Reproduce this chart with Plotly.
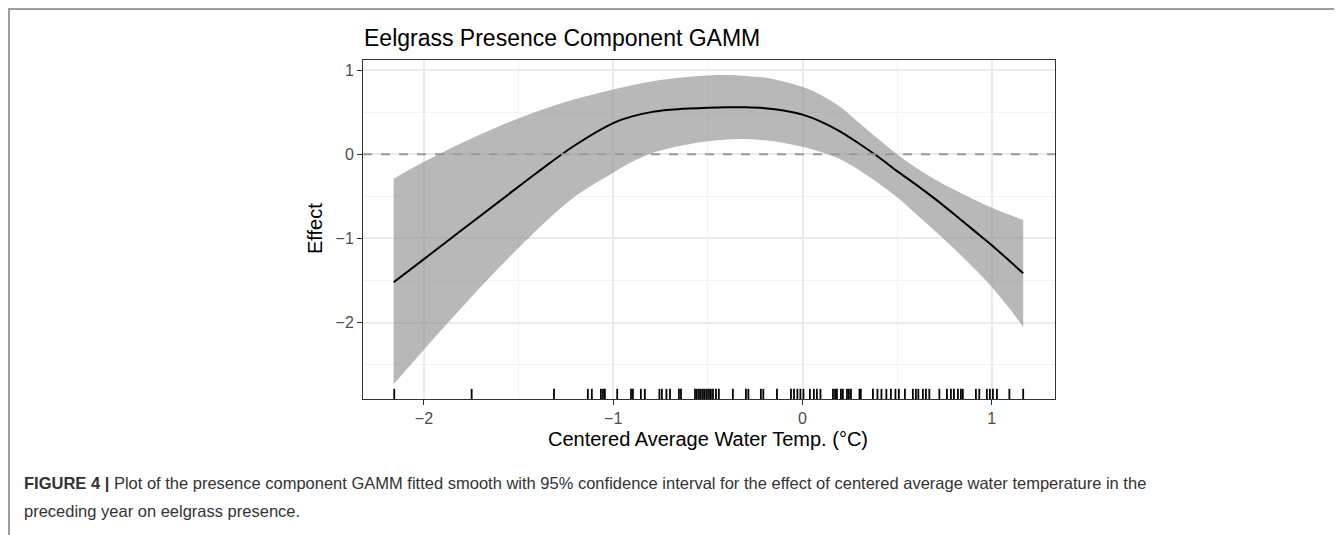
import plotly.graph_objects as go

# ---- data ----
x_grid = [-2.16, -2.0, -1.8, -1.6, -1.4, -1.2, -1.0, -0.9, -0.8, -0.7, -0.6, -0.5, -0.4,
          -0.3, -0.2, -0.1, 0.0, 0.1, 0.2, 0.3, 0.4, 0.5, 0.6, 0.7, 0.8, 0.9, 1.0, 1.1, 1.166]
y_fit = [-1.52, -1.245, -0.90, -0.557, -0.213, 0.11, 0.37, 0.45, 0.50, 0.527, 0.543, 0.553,
         0.558, 0.557, 0.547, 0.52, 0.47, 0.385, 0.27, 0.125, -0.03, -0.20, -0.36, -0.53,
         -0.71, -0.895, -1.08, -1.28, -1.413]
upper = [-0.29, -0.09, 0.135, 0.335, 0.51, 0.655, 0.77, 0.82, 0.865, 0.895, 0.92, 0.935,
         0.94, 0.93, 0.91, 0.865, 0.80, 0.70, 0.56, 0.37, 0.18, 0.0, -0.16, -0.30, -0.42,
         -0.53, -0.635, -0.725, -0.78]
lower = [-2.73, -2.32, -1.82, -1.34, -0.89, -0.50, -0.22, -0.09, 0.01, 0.075, 0.12, 0.155,
         0.175, 0.18, 0.165, 0.135, 0.09, 0.025, -0.06, -0.19, -0.34, -0.51, -0.71, -0.91,
         -1.12, -1.34, -1.575, -1.85, -2.05]

rug_x = [-2.157, -1.748, -1.313, -1.134, -1.113, -1.065, -1.054, -1.044, -0.979,
         -0.906, -0.896, -0.854, -0.833, -0.756, -0.743, -0.719, -0.700, -0.653,
         -0.642, -0.568, -0.558, -0.547, -0.537, -0.526, -0.516, -0.505, -0.494,
         -0.484, -0.473, -0.457, -0.442, -0.368, -0.299, -0.286, -0.220, -0.207,
         -0.135, -0.061, -0.045, -0.027, -0.011, 0.005, 0.039, 0.060, 0.076, 0.095,
         0.161, 0.172, 0.182, 0.203, 0.213, 0.235, 0.245, 0.256, 0.301, 0.308,
         0.372, 0.396, 0.417, 0.443, 0.467, 0.491, 0.509, 0.541, 0.583, 0.599,
         0.612, 0.636, 0.652, 0.670, 0.723, 0.763, 0.784, 0.800, 0.821, 0.837,
         0.847, 0.916, 0.934, 0.974, 0.990, 1.006, 1.027, 1.093, 1.166]

x_ticks = [-2, -1, 0, 1]
x_tick_labels = ["\u22122", "\u22121", "0", "1"]
y_ticks = [1, 0, -1, -2]
y_tick_labels = ["1", "0", "\u22121", "\u22122"]

title_text = "Eelgrass Presence Component GAMM"
x_title = "Centered Average Water Temp. (\u00b0C)"
y_title = "Effect"
caption_1 = ("<b>FIGURE 4 |</b> Plot of the presence component GAMM fitted smooth with 95% "
             "confidence interval for the effect of centered average water temperature in the")
caption_2 = "preceding year on eelgrass presence."

FONT = "Liberation Sans, Arial, sans-serif"
OFF = 8                      # page body margin
W, H = 1342 - OFF, 535 - OFF
L, R, T, B = 363 - OFF, 1055 - OFF, 60 - OFF, 399 - OFF  # panel edges in figure px

pw = R - L
ph = B - T
def px2x(p):
    return (p - OFF - L) / pw
def py2y(p):
    return (B - (p - OFF)) / ph

fig = go.Figure()

fig.add_trace(go.Scatter(x=x_grid, y=upper, mode="lines", line=dict(width=0, shape="spline"),
                         hoverinfo="skip", showlegend=False))
fig.add_trace(go.Scatter(x=x_grid, y=lower, mode="lines", line=dict(width=0, shape="spline"),
                         fill="tonexty", fillcolor="rgba(140,140,140,0.62)",
                         hoverinfo="skip", showlegend=False))
fig.add_trace(go.Scatter(x=x_grid, y=y_fit, mode="lines",
                         line=dict(color="black", width=2, shape="spline"), showlegend=False))

shapes = []
shapes.append(dict(type="line", xref="x domain", yref="y", x0=0, x1=1, y0=0, y1=0,
                   line=dict(color="#9a9a9a", width=2, dash="dash"), layer="above"))
for rx in rug_x:
    shapes.append(dict(type="line", xref="x", yref="y domain", x0=rx, x1=rx, y0=0, y1=0.03,
                       line=dict(color="black", width=1.8), layer="above"))
# figure frame (top and left grey rules)
shapes.append(dict(type="line", xref="paper", yref="paper", x0=px2x(8), x1=px2x(1342),
                   y0=py2y(9), y1=py2y(9), line=dict(color="#9c9c9c", width=2)))
shapes.append(dict(type="line", xref="paper", yref="paper", x0=px2x(9), x1=px2x(9),
                   y0=py2y(8), y1=py2y(535), line=dict(color="#9c9c9c", width=2)))

annotations = [
    dict(text=title_text, xref="paper", yref="paper", x=px2x(362), y=py2y(38),
         xanchor="left", yanchor="middle", showarrow=False,
         font=dict(family=FONT, size=23, color="black")),
    dict(text=x_title, xref="paper", yref="paper", x=px2x(708), y=py2y(439),
         xanchor="center", yanchor="middle", showarrow=False,
         font=dict(family=FONT, size=20, color="black")),
    dict(text=y_title, xref="paper", yref="paper", x=px2x(315), y=py2y(229),
         xanchor="center", yanchor="middle", showarrow=False, textangle=-90,
         font=dict(family=FONT, size=20, color="black")),
    dict(text=caption_1, xref="paper", yref="paper", x=px2x(22), y=py2y(483),
         xanchor="left", yanchor="middle", showarrow=False, align="left",
         font=dict(family=FONT, size=16.5, color="#333333")),
    dict(text=caption_2, xref="paper", yref="paper", x=px2x(22), y=py2y(511),
         xanchor="left", yanchor="middle", showarrow=False, align="left",
         font=dict(family=FONT, size=16.5, color="#333333")),
]

fig.update_layout(
    width=W, height=H,
    margin=dict(l=L, r=W - R, t=T, b=H - B, pad=0),
    paper_bgcolor="white", plot_bgcolor="white",
    shapes=shapes, annotations=annotations,
    showlegend=False,
)
common = dict(
    showgrid=True, gridcolor="#ebebeb", gridwidth=1.6,
    minor=dict(dtick=0.5, tick0=0, showgrid=True, gridcolor="#f3f3f3", gridwidth=1),
    zeroline=False, showline=True, linecolor="#333333", linewidth=1, mirror=True,
    ticks="outside", ticklen=5, tickcolor="#333333", tickwidth=1,
    tickfont=dict(family=FONT, size=16, color="#4d4d4d"),
)
fig.update_xaxes(range=[-2.322, 1.334], tickvals=x_ticks, ticktext=x_tick_labels, **common)
fig.update_yaxes(range=[-2.906, 1.119], tickvals=y_ticks, ticktext=y_tick_labels, **common)

fig.write_html("out.html")
